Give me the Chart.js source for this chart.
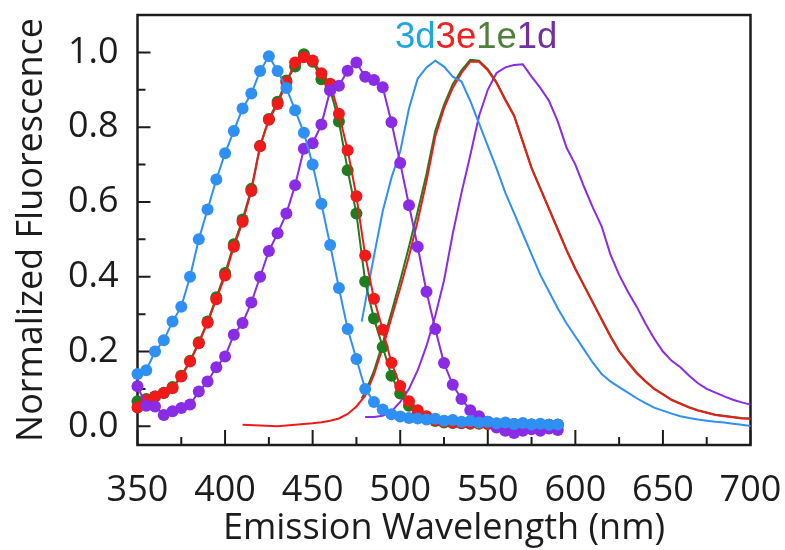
<!DOCTYPE html>
<html>
<head>
<meta charset="utf-8">
<style>
  html, body { margin: 0; padding: 0; background: #ffffff; }
  canvas { display: block; }
</style>
<script src="https://cdn.jsdelivr.net/npm/chart.js@4/dist/chart.umd.min.js"></script>
</head>
<body>
<canvas id="chart" width="785" height="550"></canvas>
<script>
// Excitation spectra (markers), sampled every 5 nm from 350 to 590 nm
const excNm = [350, 355, 360, 365, 370, 375, 380, 385, 390, 395, 400, 405, 410, 415, 420, 425, 430, 435, 440, 445,
               450, 455, 460, 465, 470, 475, 480, 485, 490, 495, 500, 505, 510, 515, 520, 525, 530, 535, 540, 545,
               550, 555, 560, 565, 570, 575, 580, 585, 590];
const exc3d = [0.14, 0.15, 0.20, 0.23, 0.28, 0.32, 0.40, 0.50, 0.58, 0.66, 0.73, 0.79, 0.85, 0.89, 0.95, 0.99, 0.95, 0.905, 0.845, 0.785,
               0.70, 0.595, 0.485, 0.37, 0.26, 0.18, 0.10, 0.065, 0.045, 0.032, 0.026, 0.022, 0.021, 0.018, 0.02, 0.015, 0.017, 0.012, 0.014, 0.01,
               0.012, 0.008, 0.01, 0.006, 0.009, 0.005, 0.007, 0.004, 0.005];
const exc3e = [0.05, 0.07, 0.08, 0.089, 0.102, 0.133, 0.173, 0.222, 0.277, 0.34, 0.403, 0.48, 0.547, 0.629, 0.749, 0.82, 0.862, 0.92, 0.973, 0.987,
               0.978, 0.944, 0.916, 0.836, 0.738, 0.615, 0.457, 0.341, 0.258, 0.17, 0.108, 0.067, 0.043, 0.027, 0.016, 0.012, 0.01, 0.009, 0.008, 0.008,
               0.007, 0.007, 0.006, 0.006, 0.005, 0.005, 0.005, 0.004, 0.004];
const exc1e = [0.067, 0.073, 0.08, 0.09, 0.105, 0.135, 0.175, 0.225, 0.28, 0.345, 0.41, 0.487, 0.553, 0.635, 0.75, 0.822, 0.868, 0.925, 0.962, 0.995,
               0.975, 0.928, 0.9, 0.815, 0.685, 0.569, 0.387, 0.288, 0.212, 0.135, 0.088, 0.055, 0.035, 0.022, 0.014, 0.01, 0.009, 0.008, 0.007, 0.007,
               0.006, 0.006, 0.006, 0.005, 0.005, 0.005, 0.004, 0.004, 0.004];
const exc1d = [0.107, 0.055, 0.053, 0.03, 0.04, 0.049, 0.058, 0.093, 0.12, 0.158, 0.187, 0.245, 0.276, 0.331, 0.40, 0.469, 0.516, 0.569, 0.645, 0.742,
               0.757, 0.807, 0.898, 0.911, 0.951, 0.973, 0.935, 0.926, 0.907, 0.813, 0.704, 0.591, 0.48, 0.36, 0.26, 0.169, 0.111, 0.073, 0.043, 0.027,
               0.012, -0.003, -0.012, -0.018, -0.012, -0.008, -0.012, -0.006, -0.01];

// Emission spectra (plain lines)
const em3dNm = [478, 480, 485, 490, 495, 500, 505, 510, 515, 520, 525, 530, 535, 540, 545, 550, 555, 560, 565, 570,
                575, 580, 585, 590, 595, 600, 605, 610, 615, 620, 625, 630, 635, 640, 645, 650, 655, 660, 665, 670,
                675, 680, 685, 690, 695, 700];
const em3d = [0.28, 0.33, 0.455, 0.575, 0.665, 0.735, 0.85, 0.93, 0.96, 0.978, 0.962, 0.935, 0.922, 0.87, 0.81, 0.75, 0.69, 0.625, 0.57, 0.515,
              0.46, 0.405, 0.36, 0.315, 0.275, 0.24, 0.205, 0.17, 0.14, 0.12, 0.105, 0.09, 0.075, 0.062, 0.05, 0.042, 0.034, 0.027, 0.022, 0.018,
              0.015, 0.012, 0.01, 0.007, 0.004, 0.001];

const em3eNm = [410, 420, 430, 440, 450, 455, 460, 465, 470, 475, 480, 485, 490, 495, 500, 505, 510, 515, 520, 525,
                530, 535, 540, 545, 550, 555, 560, 565, 570, 575, 580, 585, 590, 595, 600, 605, 610, 615, 620, 625,
                630, 635, 640, 645, 650, 655, 660, 665, 670, 675, 680, 685, 690, 695, 700];
const em3e = [0.004, 0.002, 0.0, 0.004, 0.008, 0.011, 0.015, 0.021, 0.033, 0.053, 0.082, 0.138, 0.21, 0.29, 0.37, 0.455, 0.55, 0.655, 0.775, 0.85,
              0.905, 0.945, 0.975, 0.975, 0.952, 0.918, 0.872, 0.83, 0.76, 0.69, 0.635, 0.58, 0.525, 0.47, 0.42, 0.375, 0.33, 0.285, 0.24, 0.2,
              0.17, 0.142, 0.12, 0.1, 0.085, 0.07, 0.06, 0.05, 0.042, 0.036, 0.03, 0.027, 0.024, 0.021, 0.02];

const em1eNm = [478, 480, 485, 490, 495, 500, 505, 510, 515, 520, 525, 530, 535, 540, 545, 550, 555, 560, 565, 570,
                575, 580, 585, 590, 595, 600, 605, 610, 615, 620, 625, 630, 635, 640, 645, 650, 655, 660, 665, 670,
                675, 680, 685, 690, 695, 700];
const em1e = [0.075, 0.09, 0.148, 0.222, 0.305, 0.39, 0.48, 0.575, 0.675, 0.79, 0.86, 0.915, 0.952, 0.98, 0.978, 0.955, 0.92, 0.875, 0.832, 0.762,
              0.692, 0.637, 0.582, 0.527, 0.472, 0.422, 0.377, 0.332, 0.287, 0.242, 0.202, 0.172, 0.144, 0.121, 0.101, 0.086, 0.071, 0.061, 0.051, 0.043,
              0.037, 0.031, 0.028, 0.025, 0.022, 0.021];

const em1dNm = [480, 485, 490, 495, 500, 505, 510, 515, 520, 525, 530, 535, 540, 545, 550, 555, 560, 565, 570, 575,
                580, 585, 590, 595, 600, 605, 610, 615, 620, 625, 630, 635, 640, 645, 650, 655, 660, 665, 670, 675,
                680, 685, 690, 695, 700];
const em1d = [0.025, 0.025, 0.028, 0.04, 0.065, 0.1, 0.15, 0.215, 0.295, 0.39, 0.515, 0.625, 0.725, 0.83, 0.9, 0.945, 0.96, 0.966, 0.968, 0.935,
              0.905, 0.87, 0.815, 0.745, 0.7, 0.64, 0.585, 0.535, 0.46, 0.405, 0.36, 0.32, 0.275, 0.235, 0.2, 0.175, 0.158, 0.135, 0.115, 0.1,
              0.09, 0.08, 0.071, 0.064, 0.058];

// Axis ticks
const xTicks = [350, 400, 450, 500, 550, 600, 650, 700];
const xMinorTicks = [375, 425, 475, 525, 575, 625, 675];
const yTicks = [0.0, 0.2, 0.4, 0.6, 0.8, 1.0];
const yMinorTicks = [0.1, 0.3, 0.5, 0.7, 0.9];

// Compound labels drawn above the peaks
const compounds = ['3d', '3e', '1e', '1d'];
const compoundColors = ['#1fa6e0', '#ee2020', '#4f7f3a', '#7131a1'];

const BLUE = '#2e90f2';
const RED = '#f01a1a';
const GREEN = '#1e7d1e';
const PURPLE = '#8a2be6';
const INK = '#1c1c1c';
const FONT = "'Open Sans', sans-serif";

function toPoints(xs, ys) {
  return xs.map((x, i) => ({ x: x, y: ys[i] }));
}

function excitation(label, xs, ys, color) {
  return {
    label: label, data: toPoints(xs, ys),
    borderColor: color, backgroundColor: color, borderWidth: 2,
    pointRadius: 6, pointBorderWidth: 0, pointBackgroundColor: color,
    tension: 0, clip: false
  };
}

function emission(label, xs, ys, color) {
  return {
    label: label, data: toPoints(xs, ys),
    borderColor: color, backgroundColor: color, borderWidth: 2,
    pointRadius: 0, tension: 0, clip: false
  };
}

// Keep the plot frame fixed: no extra room reserved for edge labels
function noEdgePadding(s) {
  s.paddingTop = 0; s.paddingBottom = 0; s.paddingLeft = 0; s.paddingRight = 0;
}

// Closed frame with inward major/minor ticks
const framePlugin = {
  id: 'frame',
  beforeDatasetsDraw(chart) {
    const { ctx, chartArea: a, scales: { x, y } } = chart;
    ctx.save();
    ctx.strokeStyle = INK;
    ctx.lineWidth = 2;
    ctx.beginPath();
    xTicks.forEach(v => { const p = x.getPixelForValue(v); ctx.moveTo(p, a.bottom); ctx.lineTo(p, a.bottom - 15); });
    xMinorTicks.forEach(v => { const p = x.getPixelForValue(v); ctx.moveTo(p, a.bottom); ctx.lineTo(p, a.bottom - 8); });
    yTicks.forEach(v => { const p = y.getPixelForValue(v); ctx.moveTo(a.left, p); ctx.lineTo(a.left + 13, p); });
    yMinorTicks.forEach(v => { const p = y.getPixelForValue(v); ctx.moveTo(a.left, p); ctx.lineTo(a.left + 8, p); });
    ctx.stroke();
    ctx.lineWidth = 2.5;
    ctx.strokeRect(a.left, a.top, a.right - a.left, a.bottom - a.top);
    ctx.restore();
  }
};

const compoundLabelPlugin = {
  id: 'compoundLabels',
  afterDraw(chart) {
    const ctx = chart.ctx;
    ctx.save();
    ctx.font = "36.5px 'Liberation Sans', Arial, sans-serif";
    ctx.textBaseline = 'alphabetic';
    ctx.textAlign = 'left';
    let x = 395;
    compounds.forEach((name, i) => {
      ctx.fillStyle = compoundColors[i];
      ctx.fillText(name, x, 48);
      x += ctx.measureText(name).width;
    });
    ctx.restore();
  }
};

function build() {
  new Chart(document.getElementById('chart'), {
    type: 'line',
    data: {
      datasets: [
        excitation('3d excitation', excNm, exc3d, BLUE),
        excitation('1d excitation', excNm, exc1d, PURPLE),
        excitation('3e excitation', excNm, exc3e, RED),
        excitation('1e excitation', excNm, exc1e, GREEN),
        emission('3d emission', em3dNm, em3d, BLUE),
        emission('3e emission', em3eNm, em3e, RED),
        emission('1e emission', em1eNm, em1e, GREEN),
        emission('1d emission', em1dNm, em1d, PURPLE)
      ]
    },
    options: {
      responsive: false,
      animation: false,
      devicePixelRatio: 1,
      layout: { padding: { top: 15, right: 34.5, left: 0, bottom: 0 } },
      plugins: { legend: { display: false }, tooltip: { enabled: false } },
      scales: {
        x: {
          type: 'linear', position: 'bottom', min: 350, max: 700,
          afterBuildTicks: s => { s.ticks = xTicks.map(v => ({ value: v })); },
          afterFit: s => { s.height = 105; noEdgePadding(s); },
          ticks: { font: { family: FONT, size: 36 }, color: INK, padding: 24, maxRotation: 0, autoSkip: false },
          grid: { display: false, drawTicks: false },
          border: { display: false },
          title: { display: true, text: 'Emission Wavelength (nm)', color: INK,
                   font: { family: FONT, size: 36 }, padding: { top: 0, bottom: 0 } }
        },
        y: {
          type: 'linear', min: -0.05, max: 1.1,
          afterBuildTicks: s => { s.ticks = yTicks.map(v => ({ value: v })); },
          afterFit: s => { s.width = 137.5; noEdgePadding(s); },
          ticks: { font: { family: FONT, size: 36 }, color: INK, padding: 19,
                   callback: v => Number(v).toFixed(1) },
          grid: { display: false, drawTicks: false },
          border: { display: false },
          title: { display: true, text: 'Normalized Fluorescence', color: INK,
                   font: { family: FONT, size: 36 }, padding: { top: 10, bottom: 0 } }
        }
      }
    },
    plugins: [framePlugin, compoundLabelPlugin]
  });
}

if (document.fonts && document.fonts.load) {
  Promise.all([
    document.fonts.load("36px 'Open Sans'"),
    document.fonts.load("36px 'Liberation Sans'")
  ]).then(build, build);
} else {
  build();
}
</script>
</body>
</html>
